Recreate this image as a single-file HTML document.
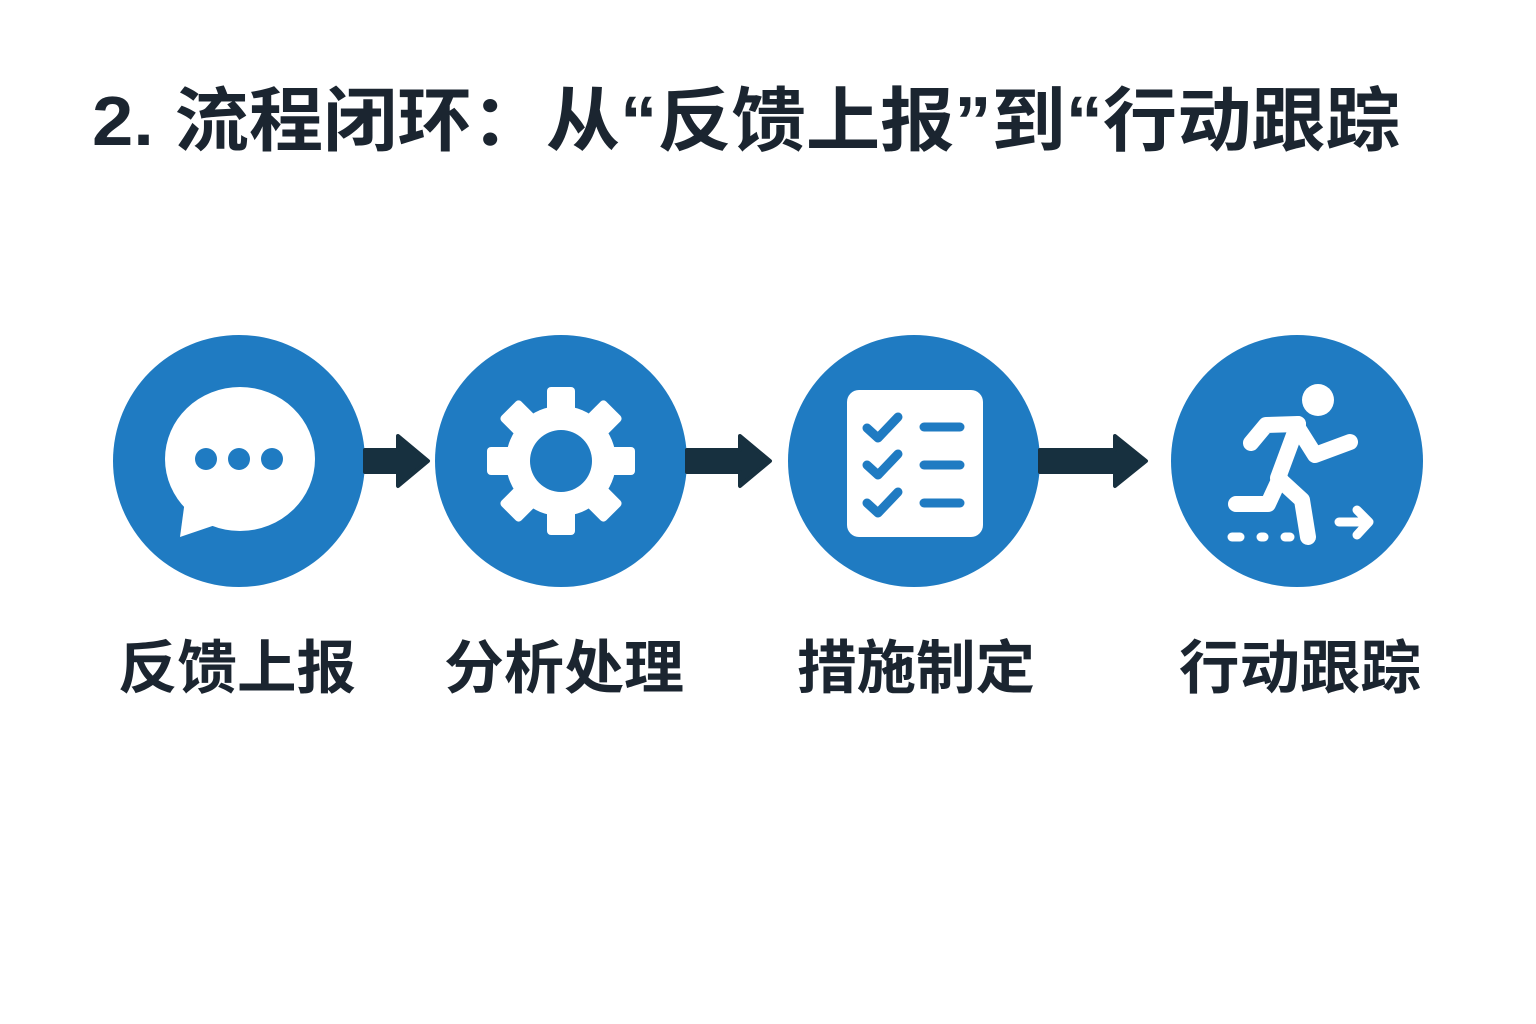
<!DOCTYPE html>
<html><head><meta charset="utf-8"><style>
html,body{margin:0;padding:0;background:#fff;}
svg{display:block}
text{font-family:"Liberation Sans","Noto Sans CJK SC",sans-serif;font-weight:bold;fill:#1b2530}
</style></head><body>
<svg width="1536" height="1024" viewBox="0 0 1536 1024">
<text x="92" y="145" font-size="70" textLength="1308" lengthAdjust="spacingAndGlyphs">2. 流程闭环：从“反馈上报”到“行动跟踪</text>
<g fill="#1f7bc2">
<circle cx="239" cy="461" r="126"/>
<circle cx="561" cy="461" r="126"/>
<circle cx="914" cy="461" r="126"/>
<circle cx="1297" cy="461" r="126"/>
</g>
<g fill="#17303f" stroke="#17303f" stroke-width="4" stroke-linejoin="round">
<path d="M365 450 H398 V436 L428 461 L398 486 V472 H365 Z"/>
<path d="M687 450 H740 V436 L770 461 L740 486 V472 H687 Z"/>
<path d="M1040 450 H1115 V436 L1146 461 L1115 486 V472 H1040 Z"/>
</g>
<!-- chat -->
<g fill="#fff">
<ellipse cx="240" cy="459" rx="75" ry="72"/>
<path d="M185 500 L180 537 L230 520 Z"/>
</g>
<g fill="#1f7bc2"><circle cx="206" cy="459" r="11"/><circle cx="239" cy="459" r="11"/><circle cx="272" cy="459" r="11"/></g>
<!-- gear -->
<g fill="#fff" transform="translate(561,461)">
<circle r="55"/>
<g id="t"><rect x="-14" y="-74" width="28" height="30" rx="4"/></g>
<use href="#t" transform="rotate(45)"/><use href="#t" transform="rotate(90)"/><use href="#t" transform="rotate(135)"/>
<use href="#t" transform="rotate(180)"/><use href="#t" transform="rotate(225)"/><use href="#t" transform="rotate(270)"/><use href="#t" transform="rotate(315)"/>
<circle r="31" fill="#1f7bc2"/>
</g>
<!-- checklist -->
<rect x="847" y="390" width="136" height="147" rx="12" fill="#fff"/>
<g stroke="#1f7bc2" stroke-width="9" stroke-linecap="round" stroke-linejoin="round" fill="none">
<path d="M867 428 L878 438 L898 417"/><path d="M867 465 L878 475 L898 454"/><path d="M867 503 L878 513 L898 492"/>
<path d="M924 427 H960"/><path d="M924 465 H960"/><path d="M924 503 H960"/>
</g>
<!-- runner -->
<circle cx="1318" cy="400" r="16" fill="#fff"/>
<g stroke="#fff" stroke-width="16" stroke-linecap="round" stroke-linejoin="round" fill="none">
<path d="M1251 443 L1266 425 L1298 424"/>
<path d="M1298 424 L1278 478 L1302 500 L1308 537"/>
<path d="M1280 478 L1268 504 L1236 504"/>
<path d="M1298 428 L1315 455 L1350 442"/>
</g>
<g stroke="#fff" stroke-width="9" stroke-linecap="round" stroke-linejoin="round" fill="none">
<path d="M1232 537 H1240"/><path d="M1261 537 H1264"/><path d="M1285 537 H1290"/>
<path d="M1339 522 H1368"/><path d="M1357 510 L1369 522 L1357 535"/>
</g>
<g font-size="58">
<text x="118" y="688" textLength="238" lengthAdjust="spacingAndGlyphs">反馈上报</text>
<text x="444" y="688" textLength="240" lengthAdjust="spacingAndGlyphs">分析处理</text>
<text x="797" y="688" textLength="238" lengthAdjust="spacingAndGlyphs">措施制定</text>
<text x="1179" y="688" textLength="242" lengthAdjust="spacingAndGlyphs">行动跟踪</text>
</g>
</svg>
</body></html>
